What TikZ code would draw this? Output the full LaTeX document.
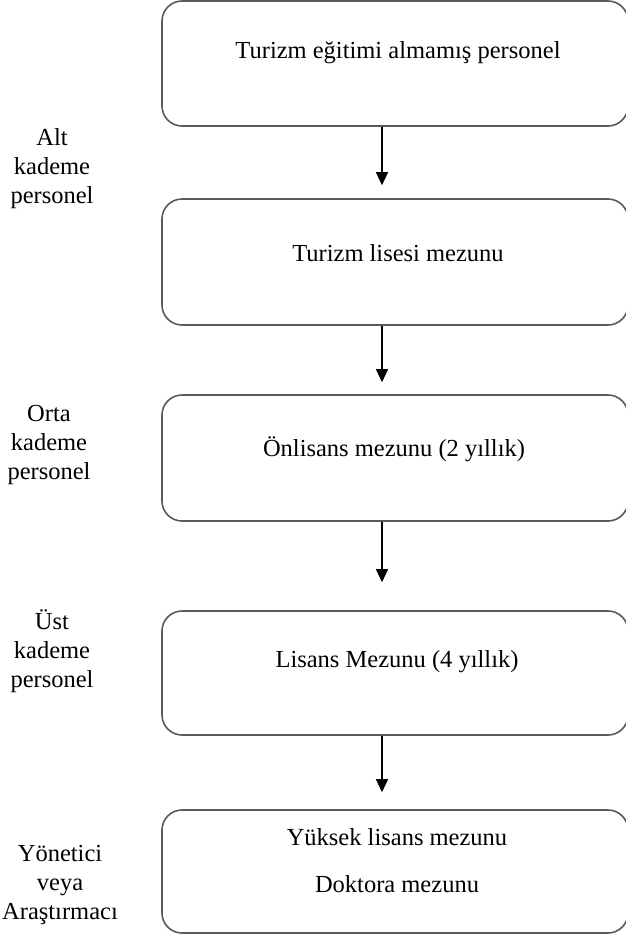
\documentclass[tikz,border=0pt]{standalone}
\usepackage{fontspec}
\setmainfont{Liberation Serif}
\usetikzlibrary{positioning,arrows.meta}

\begin{document}
\begin{tikzpicture}[
  x=1pt, y=-1pt,
  font=\fontsize{24.5}{29}\selectfont,
  kutu/.style={rectangle, rounded corners=20pt, draw=black!65, line width=1.6pt,
               minimum width=466pt, minimum height=#1, inner sep=0pt},
  ok/.style={-{Triangle[length=13pt,width=12pt]}, line width=1.3pt},
  yazi/.style={align=center, inner sep=0pt},
  kademe/.style={align=center, inner sep=0pt}
]
\useasboundingbox (0,0) rectangle (625,937);
% ── boxes ────────────────────────────────────────────────────────────────────
\node[kutu=125pt] (b1) at (395,63.5) {};
\node[kutu=126pt] (b2) at (395,262) {};
\node[kutu=126pt] (b3) at (395,458) {};
\node[kutu=124pt] (b4) at (395,673) {};
\node[kutu=123pt] (b5) at (395,871.5) {};

% ── box texts ────────────────────────────────────────────────────────────────
\node[yazi] (t1) at (398,53)  {Turizm eğitimi almamış personel};
\node[yazi] (t2) at (398,253) {Turizm lisesi mezunu};
\node[yazi] (t3) at (394,449) {Önlisans mezunu (2 yıllık)};
\node[yazi] (t4) at (397,662) {Lisans Mezunu (4 yıllık)};
\node[yazi] (t5) at (397,837) {Yüksek lisans mezunu};
\node[yazi] (t6) at (397,884) {Doktora mezunu};

% ── levels ───────────────────────────────────────────────────────────────────
\node[kademe] (k1) at (52,169)  {Alt\\kademe\\personel};
\node[kademe] (k2) at (49,445)  {Orta\\kademe\\personel};
\node[kademe] (k3) at (52,651)  {Üst\\kademe\\personel};
\node[kademe] (k4) at (60,885)  {Yönetici\\veya\\Araştırmacı};

% ── arrows ───────────────────────────────────────────────────────────────────
\draw[ok, shorten >=13pt] ([xshift=-13pt]b1.south) -- ([xshift=-13pt]b2.north);
\draw[ok, shorten >=12pt] ([xshift=-13pt]b2.south) -- ([xshift=-13pt]b3.north);
\draw[ok, shorten >=28pt] ([xshift=-13pt]b3.south) -- ([xshift=-13pt]b4.north);
\draw[ok, shorten >=17pt] ([xshift=-13pt]b4.south) -- ([xshift=-13pt]b5.north);
\end{tikzpicture}
\end{document}
